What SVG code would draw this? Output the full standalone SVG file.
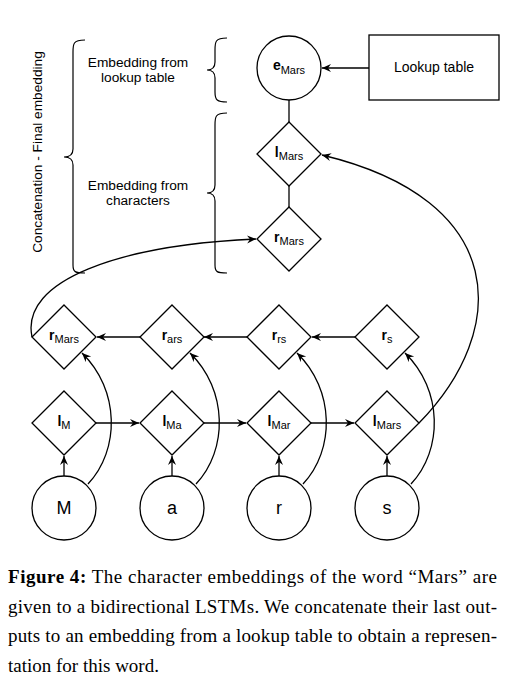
<svg xmlns="http://www.w3.org/2000/svg" width="532" height="690" viewBox="0 0 532 690">
<style>
.sh{fill:#fff;stroke:#000;stroke-width:1.3}
.ln{fill:none;stroke:#000;stroke-width:1.3}
.br{fill:none;stroke:#000;stroke-width:1.2}
.t{font-family:"Liberation Sans",Arial,sans-serif;font-size:13.7px;fill:#000;text-anchor:middle}
.lb{font-family:"Liberation Sans",Arial,sans-serif;font-size:14px;font-weight:bold;fill:#000;text-anchor:middle}
.sub{font-size:11px;font-weight:normal}
.ch{font-family:"Liberation Sans",Arial,sans-serif;font-size:18px;fill:#000;text-anchor:middle}
.cap{font-family:"Liberation Serif","Times New Roman",serif;font-size:19px;fill:#000}
</style>
<defs>
<marker id="ah" markerWidth="10" markerHeight="10" refX="9" refY="5" orient="auto" markerUnits="userSpaceOnUse">
<path d="M0,1 L9,5 L0,9 L3,5 Z" fill="#000"/>
</marker>
</defs>
<rect width="532" height="690" fill="#fff"/>

<g id="connectors">
<line class="ln" x1="369" y1="68" x2="322" y2="68" marker-end="url(#ah)"/>
<line class="ln" x1="289" y1="100" x2="289" y2="122"/>
<line class="ln" x1="289" y1="185" x2="289" y2="207"/>
<path class="ln" d="M32,337 C20,280 120,245 256,239" marker-end="url(#ah)"/>
<path class="ln" d="M419,423 C510,330 510,200 322,155" marker-end="url(#ah)"/>
<line class="ln" x1="96" y1="423" x2="139" y2="423" marker-end="url(#ah)"/>
<line class="ln" x1="204" y1="423" x2="246" y2="423" marker-end="url(#ah)"/>
<line class="ln" x1="311" y1="423" x2="354" y2="423" marker-end="url(#ah)"/>
<line class="ln" x1="140" y1="337" x2="97" y2="337" marker-end="url(#ah)"/>
<line class="ln" x1="247" y1="337" x2="204" y2="337" marker-end="url(#ah)"/>
<line class="ln" x1="355" y1="337" x2="312" y2="337" marker-end="url(#ah)"/>
<line class="ln" x1="64" y1="476" x2="64" y2="456" marker-end="url(#ah)"/>
<line class="ln" x1="172" y1="476" x2="172" y2="456" marker-end="url(#ah)"/>
<line class="ln" x1="279" y1="476" x2="279" y2="456" marker-end="url(#ah)"/>
<line class="ln" x1="387" y1="476" x2="387" y2="456" marker-end="url(#ah)"/>
<path class="ln" d="M88,484 C120,450 120,390 82,353" marker-end="url(#ah)"/>
<path class="ln" d="M196,484 C228,450 228,390 190,353" marker-end="url(#ah)"/>
<path class="ln" d="M303,484 C335,450 335,390 297,353" marker-end="url(#ah)"/>
<path class="ln" d="M411,484 C443,450 443,390 405,353" marker-end="url(#ah)"/>
</g>

<g id="braces">
<path class="br" d="M227,38 C215,38 215,42 215,50 L215,62 C215,68 212,70 207,70 C212,70 215,72 215,78 L215,92 C215,100 217,102 227,102"/>
<path class="br" d="M227,113 C215,113 215,117 215,125 L215,185 C215,191 212,193 207,193 C212,193 215,195 215,201 L215,265 C215,272 217,273 227,273"/>
<path class="br" d="M85,40 C73,40 73,44 73,52 L73,149 C73,155 70,157 64,157 C70,157 73,159 73,165 L73,265 C73,272 75,273 85,273"/>
</g>

<g id="labels">
<text class="t" x="138" y="67">Embedding from</text>
<text class="t" x="138" y="82">lookup table</text>
<text class="t" x="138" y="190">Embedding from</text>
<text class="t" x="138" y="205">characters</text>
<text class="t" transform="translate(42,152) rotate(-90)">Concatenation - Final embedding</text>
</g>

<g id="lookup">
<rect class="sh" x="369" y="35" width="130" height="65"/>
<text class="t" x="434" y="72" style="font-size:14px">Lookup table</text>
</g>
<g id="eMars">
<circle class="sh" cx="289" cy="68" r="32"/>
<text class="lb" x="289" y="70">e<tspan class="sub" dy="4">Mars</tspan></text>
</g>
<g id="lMars_top">
<path class="sh" d="M289,122 L321,154 L289,186 L257,154 Z"/>
<text class="lb" x="289" y="157">l<tspan class="sub" dy="3">Mars</tspan></text>
</g>
<g id="rMars_top">
<path class="sh" d="M289,207 L321,239 L289,271 L257,239 Z"/>
<text class="lb" x="289" y="242">r<tspan class="sub" dy="3">Mars</tspan></text>
</g>

<g id="rMars">
<path class="sh" d="M64,305 L96,337 L64,369 L32,337 Z"/>
<text class="lb" x="64" y="340">r<tspan class="sub" dy="3">Mars</tspan></text>
</g>
<g id="rars">
<path class="sh" d="M172,305 L204,337 L172,369 L140,337 Z"/>
<text class="lb" x="172" y="340">r<tspan class="sub" dy="3">ars</tspan></text>
</g>
<g id="rrs">
<path class="sh" d="M279,305 L311,337 L279,369 L247,337 Z"/>
<text class="lb" x="279" y="340">r<tspan class="sub" dy="3">rs</tspan></text>
</g>
<g id="rs">
<path class="sh" d="M387,305 L419,337 L387,369 L355,337 Z"/>
<text class="lb" x="387" y="340">r<tspan class="sub" dy="3">s</tspan></text>
</g>

<g id="lM">
<path class="sh" d="M64,391 L96,423 L64,455 L32,423 Z"/>
<text class="lb" x="64" y="426">l<tspan class="sub" dy="3">M</tspan></text>
</g>
<g id="lMa">
<path class="sh" d="M172,391 L204,423 L172,455 L140,423 Z"/>
<text class="lb" x="172" y="426">l<tspan class="sub" dy="3">Ma</tspan></text>
</g>
<g id="lMar">
<path class="sh" d="M279,391 L311,423 L279,455 L247,423 Z"/>
<text class="lb" x="279" y="426">l<tspan class="sub" dy="3">Mar</tspan></text>
</g>
<g id="lMars">
<path class="sh" d="M387,391 L419,423 L387,455 L355,423 Z"/>
<text class="lb" x="387" y="426">l<tspan class="sub" dy="3">Mars</tspan></text>
</g>

<g id="cM"><circle class="sh" cx="64" cy="508" r="32"/><text class="ch" x="64" y="514">M</text></g>
<g id="ca"><circle class="sh" cx="172" cy="508" r="32"/><text class="ch" x="172" y="514">a</text></g>
<g id="cr"><circle class="sh" cx="279" cy="508" r="32"/><text class="ch" x="279" y="514">r</text></g>
<g id="cs"><circle class="sh" cx="387" cy="508" r="32"/><text class="ch" x="387" y="514">s</text></g>

<g id="caption">
<text class="cap" x="8" y="583" textLength="489" lengthAdjust="spacing"><tspan font-weight="bold">Figure 4:</tspan> The character embeddings of the word “Mars” are</text>
<text class="cap" x="8" y="613" textLength="489" lengthAdjust="spacing">given to a bidirectional LSTMs. We concatenate their last out-</text>
<text class="cap" x="8" y="642" textLength="489" lengthAdjust="spacing">puts to an embedding from a lookup table to obtain a represen-</text>
<text class="cap" x="8" y="672">tation for this word.</text>
</g>
</svg>
